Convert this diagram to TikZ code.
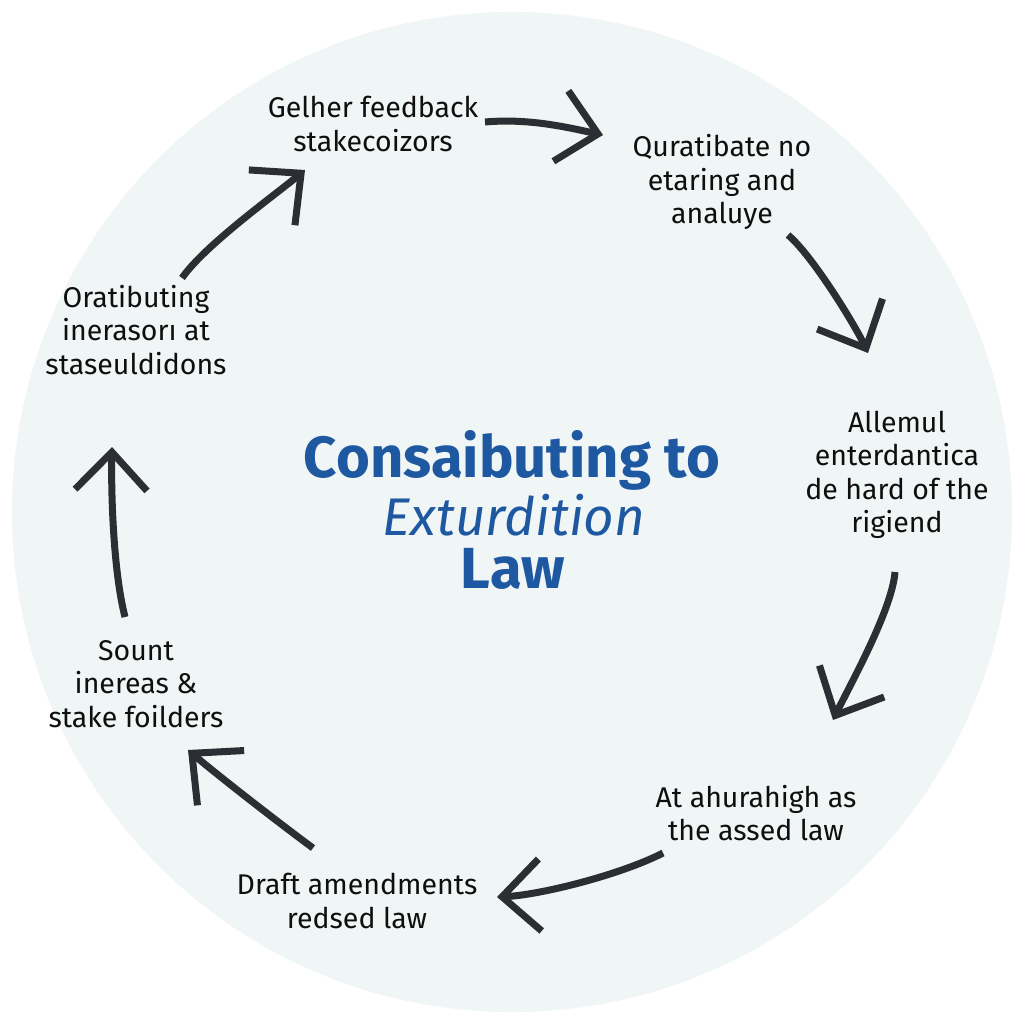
\documentclass[tikz,border=0pt]{standalone}
\usepackage{fontspec}
\setmainfont{Fira Sans}
\usetikzlibrary{arrows.meta}
\definecolor{disc}{RGB}{240,245,245}
\definecolor{ink}{RGB}{43,46,50}
\definecolor{titleblue}{RGB}{30,88,160}
\definecolor{txt}{RGB}{15,15,15}
\begin{document}
\begin{tikzpicture}[x=1pt,y=-1pt,
  lbl/.style={align=center, inner sep=0pt, text=txt, font=\fontsize{28.5}{33.5}\selectfont},
  ttl/.style={anchor=base, inner sep=0pt, text=titleblue},
  cyc/.style={draw=ink, line width=7pt, -{Straight Barb[length=38pt,width=72pt]}}
]
\useasboundingbox (0,0) rectangle (1024,1024);
\fill[white] (0,0) rectangle (1024,1024);
\fill[disc] (512,512) circle[radius=500pt];

% title
\node[ttl, font=\bfseries\fontsize{58}{60}\selectfont] (t1) at (512,477) {Consaibuting to};
\node[ttl, font=\itshape\fontsize{53}{53}\selectfont] (t2) at (514,535) {Exturdition};
\node[ttl, font=\bfseries\fontsize{58}{60}\selectfont] (t3) at (513,588) {Law};

% labels
\node[lbl] (l1) at (373,124) {Gelher feedback\\stakecoizors};
\node[lbl] (l2) at (722,182) {Quratibate no\\etaring and\\analuye};
\node[lbl] (l3) at (897,475) {Allemul\\enterdantica\\de hard of the\\rigiend};
\node[lbl] (l4) at (756,813) {At ahurahigh as\\the assed law};
\node[lbl] (l5) at (357,901) {Draft amendments\\redsed law};
\node[lbl] (l6) at (136,684) {Sount\\inereas \&\\stake foilders};
\node[lbl] (l7) at (136,330) {Oratibuting\\inerasorı at\\staseuldidons};

% arrow end points
\coordinate (a1s) at (485,122); \coordinate (a1e) at (603,135);
\coordinate (a2s) at (788,235); \coordinate (a2e) at (868,353);
\coordinate (a3s) at (895,572); \coordinate (a3e) at (833,720);
\coordinate (a4s) at (663,853); \coordinate (a4e) at (497,897);
\coordinate (a5s) at (313,848); \coordinate (a5e) at (188,750);
\coordinate (a6s) at (125,617); \coordinate (a6e) at (112,447);
\coordinate (a7s) at (182,278); \coordinate (a7e) at (305,170);

\draw[cyc] (a1s) .. controls (530,118) and (570,128) .. (a1e);
\draw[cyc] (a2s) .. controls (812,255) and (855,325) .. (a2e);
\draw[cyc] (a3s) .. controls (892,610) and (850,685) .. (a3e);
\draw[cyc] (a4s) .. controls (620,875) and (540,895) .. (a4e);
\draw[cyc] (a5s) .. controls (275,820) and (215,773) .. (a5e);
\draw[cyc] (a6s) .. controls (113,570) and (111,490) .. (a6e);
\draw[cyc] (a7s) .. controls (205,245) and (275,195) .. (a7e);
\end{tikzpicture}
\end{document}
